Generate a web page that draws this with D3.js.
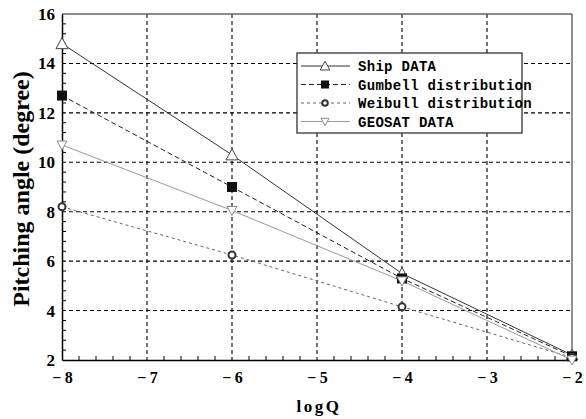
<!DOCTYPE html>
<html>
<head>
<meta charset="utf-8">
<script src="https://cdn.jsdelivr.net/npm/d3@7"></script>
<style>
  html, body { margin: 0; padding: 0; background: #fff; }
  svg { display: block; }
</style>
</head>
<body>
<svg id="chart" width="586" height="419"></svg>
<script>
// log of exceedance probability
const logQ = [-8, -6, -4, -2];

// pitching angle (degrees) for each method
const shipData    = [14.8, 10.3, 5.5, 2.2];
const gumbelData  = [12.7, 9.0, 5.3, 2.15];
const weibullData = [8.2, 6.25, 4.15, 2.1];
const geosatData  = [10.7, 8.05, 5.2, 2.0];

const xTicks = [-8, -7, -6, -5, -4, -3, -2];
const yTicks = [2, 4, 6, 8, 10, 12, 14, 16];

const seriesNames = ["Ship DATA", "Gumbell distribution", "Weibull distribution", "GEOSAT DATA"];

const series = [
  { name: seriesNames[0], values: shipData,    stroke: "#333", dash: null,  symbol: "triangle" },
  { name: seriesNames[1], values: gumbelData,  stroke: "#222", dash: "5,3", symbol: "square" },
  { name: seriesNames[2], values: weibullData, stroke: "#666", dash: "3,3", symbol: "circle" },
  { name: seriesNames[3], values: geosatData,  stroke: "#999", dash: null,  symbol: "invtriangle" }
];

const svg = d3.select("#chart");
const m = { left: 62, right: 14, top: 14, bottom: 59 };
const W = 586, H = 419;

const x = d3.scaleLinear().domain([-8, -2]).range([m.left, W - m.right]);
const y = d3.scaleLinear().domain([2, 16]).range([H - m.bottom, m.top]);

const serif = "'Liberation Serif', 'DejaVu Serif', serif";
const mono = "'Liberation Mono', 'DejaVu Sans Mono', monospace";

// dashed grid
const grid = svg.append("g");
grid.selectAll("line.v").data(xTicks.slice(1, -1)).join("line")
  .attr("x1", d => x(d)).attr("x2", d => x(d))
  .attr("y1", y(16)).attr("y2", y(2))
  .attr("stroke", "#000").attr("stroke-width", 1.1).attr("stroke-dasharray", "4,3");
grid.selectAll("line.h").data(yTicks.slice(1, -1)).join("line")
  .attr("y1", d => y(d)).attr("y2", d => y(d))
  .attr("x1", x(-8)).attr("x2", x(-2))
  .attr("stroke", "#000").attr("stroke-width", 1.1).attr("stroke-dasharray", "4,3");

// frame
svg.append("line").attr("x1", x(-8)).attr("x2", x(-2)).attr("y1", y(16)).attr("y2", y(16))
  .attr("stroke", "#666").attr("stroke-width", 1.3);
svg.append("line").attr("x1", x(-2)).attr("x2", x(-2)).attr("y1", y(16)).attr("y2", y(2))
  .attr("stroke", "#555").attr("stroke-width", 1.3);

// bottom axis with inward minor ticks
const xMinor = d3.range(-8, -2.0001, 0.2).filter(v => Math.abs(v - Math.round(v)) > 1e-6);
const xAxis = d3.axisBottom(x).tickValues(xTicks).tickSize(0).tickPadding(12)
  .tickFormat(d => d < 0 ? "\u2212\u2009" + Math.abs(d) : d);
const gx = svg.append("g").attr("transform", `translate(0,${y(2)})`).call(xAxis);
gx.select(".domain").attr("stroke", "#000").attr("stroke-width", 1.5);
gx.selectAll("text").attr("font-family", serif).attr("font-weight", "bold")
  .attr("font-size", 16).attr("fill", "#000");
gx.selectAll("line.minor").data(xMinor).join("line").attr("class", "minor")
  .attr("x1", d => x(d)).attr("x2", d => x(d)).attr("y1", 0).attr("y2", -4)
  .attr("stroke", "#000");

// left axis with inward minor ticks
const yMinor = d3.range(2, 16.0001, 0.4).filter(v => Math.abs(v / 2 - Math.round(v / 2)) > 1e-6);
const yAxis = d3.axisLeft(y).tickValues(yTicks).tickSize(0).tickPadding(7);
const gy = svg.append("g").attr("transform", `translate(${x(-8)},0)`).call(yAxis);
gy.select(".domain").attr("stroke", "#000").attr("stroke-width", 1.5);
gy.selectAll("text").attr("font-family", serif).attr("font-weight", "bold")
  .attr("font-size", 17).attr("fill", "#000");
gy.selectAll("line.minor").data(yMinor).join("line").attr("class", "minor")
  .attr("y1", d => y(d)).attr("y2", d => y(d)).attr("x1", 0).attr("x2", 4)
  .attr("stroke", "#000");

// axis titles
svg.append("text").attr("x", (x(-8) + x(-2)) / 2 + 2).attr("y", 412)
  .attr("text-anchor", "middle").attr("font-family", serif).attr("font-weight", "bold")
  .attr("font-size", 17).attr("letter-spacing", 2.5).text("logQ");
svg.append("text")
  .attr("transform", `translate(29,${(y(2) + y(16)) / 2 + 2}) rotate(-90)`)
  .attr("text-anchor", "middle").attr("font-family", serif).attr("font-weight", "bold")
  .attr("font-size", 24).text("Pitching angle (degree)");

// marker drawing
function drawSymbol(g, s, cx, cy, k = 1) {
  if (s.symbol === "triangle") {
    g.append("path").attr("d", `M${cx},${cy - 6 * k}L${cx + 6 * k},${cy + 5 * k}L${cx - 6 * k},${cy + 5 * k}Z`)
      .attr("fill", "#fff").attr("stroke", "#444").attr("stroke-width", 1);
  } else if (s.symbol === "square") {
    g.append("rect").attr("x", cx - 5 * k).attr("y", cy - 5 * k)
      .attr("width", 10 * k).attr("height", 10 * k).attr("fill", "#111");
  } else if (s.symbol === "circle") {
    g.append("circle").attr("cx", cx).attr("cy", cy).attr("r", 3.5 * k)
      .attr("fill", "#fff").attr("stroke", "#333").attr("stroke-width", 2);
  } else {
    g.append("path").attr("d", `M${cx},${cy + 5 * k}L${cx + 5 * k},${cy - 4 * k}L${cx - 5 * k},${cy - 4 * k}Z`)
      .attr("fill", "#fff").attr("stroke", "#888").attr("stroke-width", 1);
  }
}

const line = d3.line().x((d, i) => x(logQ[i])).y(d => y(d));
const plot = svg.append("g");
series.forEach(s => {
  plot.append("path").datum(s.values).attr("d", line)
    .attr("fill", "none").attr("stroke", s.stroke).attr("stroke-width", 1)
    .attr("stroke-dasharray", s.dash);
});
series.forEach(s => {
  const g = plot.append("g");
  s.values.forEach((v, i) => drawSymbol(g, s, x(logQ[i]), y(v)));
});

// legend
const lg = svg.append("g");
lg.append("rect").attr("x", 297).attr("y", 53).attr("width", 225).attr("height", 80)
  .attr("fill", "#fff").attr("stroke", "#333").attr("stroke-width", 1.3);
series.forEach((s, i) => {
  const cy = 66 + i * 18.5;
  lg.append("line").attr("x1", 301).attr("x2", 350).attr("y1", cy).attr("y2", cy)
    .attr("stroke", s.stroke).attr("stroke-width", 1).attr("stroke-dasharray", s.dash);
  drawSymbol(lg, s, 325, cy, 0.8);
  lg.append("text").attr("x", 358).attr("y", cy + 5)
    .attr("font-family", mono).attr("font-weight", "bold").attr("font-size", 14)
    .attr("letter-spacing", 0.3).attr("fill", "#000").text(s.name);
});
</script>
</body>
</html>
